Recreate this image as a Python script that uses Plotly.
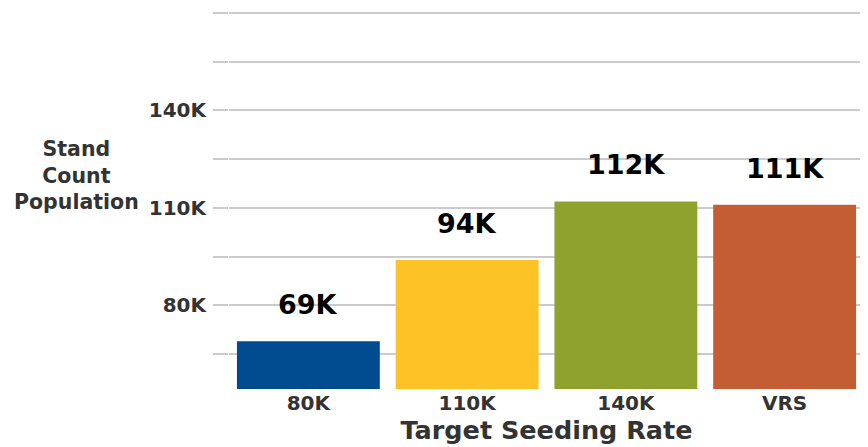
import plotly.graph_objects as go

categories = ["80K", "110K", "140K", "VRS"]
stand_count = [69000, 94000, 112000, 111000]
value_labels = ["69K", "94K", "112K", "111K"]
bar_colors = ["#004A8F", "#FDC226", "#8FA22E", "#C55D33"]
y_tick_values = [65000, 80000, 95000, 110000, 125000, 140000, 155000, 170000]
y_tick_labels = ["", "80K", "", "110K", "", "140K", "", ""]

FONT = "DejaVu Sans"
TEXT_GRAY = "#333333"
GRID = "#cbcbcb"

fig = go.Figure()
fig.add_trace(go.Bar(
    x=categories, y=stand_count,
    marker=dict(color=bar_colors, line=dict(width=0)),
    hoverinfo="skip",
))

for c, v, t in zip(categories, stand_count, value_labels):
    fig.add_annotation(
        x=c, y=v, text=t, showarrow=False, yanchor="bottom", yshift=19,
        font=dict(family=FONT, size=27, color="#000000", weight="bold"),
    )

fig.add_annotation(
    xref="paper", yref="paper", x=0, y=0.56, xanchor="center", yanchor="middle",
    xshift=-153, text="Stand<br>Count<br>Population", showarrow=False, align="center",
    font=dict(family=FONT, size=20.5, color=TEXT_GRAY, weight="bold"),
)

fig.update_layout(
    width=860, height=439,
    margin=dict(l=220.5, r=4, t=0, b=58),
    paper_bgcolor="white", plot_bgcolor="white",
    bargap=0.1, showlegend=False,
    xaxis=dict(
        showgrid=False, showline=False, zeroline=False, ticks="",
        tickfont=dict(family=FONT, size=20, color=TEXT_GRAY, weight="bold"),
        title=dict(text="Target Seeding Rate", standoff=4,
                   font=dict(family=FONT, size=25.5, color=TEXT_GRAY, weight="bold")),
    ),
    yaxis=dict(
        range=[54300, 171500], tickvals=y_tick_values, ticktext=y_tick_labels,
        showgrid=True, gridcolor=GRID, gridwidth=1.5, zeroline=False, showline=False,
        ticks="outside", ticklen=15, tickcolor=GRID, tickwidth=1.5,
        ticklabelstandoff=3,
        tickfont=dict(family=FONT, size=20, color=TEXT_GRAY, weight="bold"),
    ),
)

fig.write_html("out.html")
